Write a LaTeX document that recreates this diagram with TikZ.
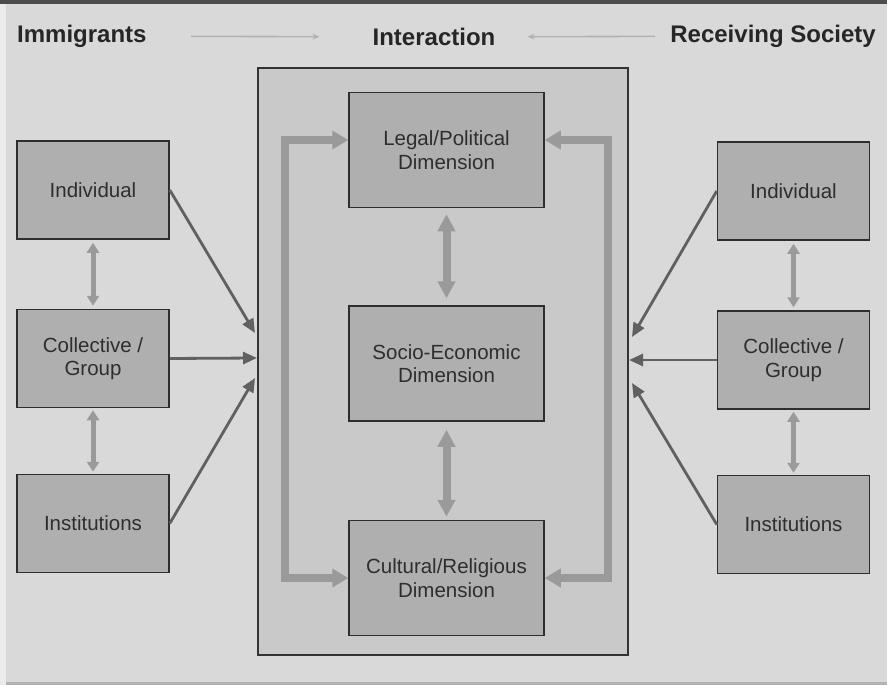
\documentclass[tikz,border=0pt]{standalone}
\usepackage{fontspec}
\setmainfont{Liberation Sans}
\usetikzlibrary{arrows.meta}

\definecolor{bggray}{HTML}{D9D9D9}
\definecolor{outergray}{HTML}{C9C9C9}
\definecolor{boxgray}{HTML}{AFAFAF}
\definecolor{loopgray}{HTML}{9A9A9A}
\definecolor{linkgray}{HTML}{606060}
\definecolor{textgray}{HTML}{2E2E2E}

\begin{document}
\begin{tikzpicture}[x=1pt, y=-1pt,
    box/.style={draw=textgray, line width=1.5pt, fill=boxgray, text=textgray,
        align=center, font=\fontsize{20.5}{23.5}\selectfont, inner sep=0pt},
    sidebox/.style={box, minimum width=152pt, minimum height=98pt},
    dimbox/.style={box, minimum width=195pt, minimum height=115pt},
    title/.style={font=\fontsize{24}{28}\selectfont\bfseries, text=black!85, inner sep=0pt},
    titlearr/.style={draw=black!30, line width=1.6pt, -{Stealth[length=7pt, width=6pt]}},
    link/.style={draw=linkgray, line width=2.8pt, -{Triangle[length=14pt, width=12pt]}},
    vlink/.style={draw=loopgray, line width=5pt, {Triangle[length=10pt, width=12pt]}-{Triangle[length=10pt, width=12pt]}},
    dlink/.style={draw=loopgray, line width=8pt, {Triangle[length=17pt, width=17pt]}-{Triangle[length=17pt, width=17pt]}},
    loop/.style={draw=loopgray, line width=8pt, {Triangle[length=16pt, width=18pt]}-{Triangle[length=16pt, width=18pt]}}]

    % page
    \fill[bggray] (0,0) rectangle (887,685);
    \fill[white!92!black] (0,0) rectangle (6,685);
    \fill[black!70] (0,0) rectangle (887,4);
    \fill[black!30] (6,682) rectangle (887,685);

    % headings
    \node[title, anchor=west] (imm) at (17,36) {Immigrants};
    \node[title] (inter) at (434,37) {Interaction};
    \node[title, anchor=east] (recv) at (876,36) {Receiving Society};
    \draw[titlearr, shorten <=44pt, shorten >=53pt] (imm) -- (inter);
    \draw[titlearr, shorten <=15pt, shorten >=32pt] (recv) -- (inter);

    % interaction frame
    \node[draw=black!80, line width=1.5pt, fill=outergray, minimum width=370pt,
        minimum height=587pt, inner sep=0pt] (frame) at (443,361.5) {};

    \node[dimbox] (legal) at (446.5,150) {Legal/Political\\Dimension};
    \node[dimbox] (socio) at (446.5,363.5) {Socio-Economic\\Dimension};
    \node[dimbox] (cult) at (446.5,578) {Cultural/Religious\\Dimension};

    \draw[dlink, shorten <=6pt, shorten >=7pt] (legal) -- (socio);
    \draw[dlink, shorten <=8pt, shorten >=3pt] (socio) -- (cult);
    \draw[loop] ([yshift=10pt]legal.west) -- ++(-63,0) |- (cult.west);
    \draw[loop] ([yshift=10pt]legal.east) -- ++(63,0) |- (cult.east);

    % immigrants
    \node[sidebox] (lind) at (93,190) {Individual};
    \node[sidebox] (lcol) at (93,358.5) {Collective /\\Group};
    \node[sidebox] (linst) at (93,523.5) {Institutions};
    \draw[vlink, shorten <=3pt, shorten >=3pt] (lind) -- (lcol);
    \draw[vlink, shorten <=2pt, shorten >=2pt] (lcol) -- (linst);

    \coordinate (lin1) at (255,333);
    \coordinate (lin2) at (257,358);
    \coordinate (lin3) at (255,378);
    \draw[link] (lind.east) -- (lin1);
    \draw[link] (lcol.east) -- (lin2);
    \draw[link] (linst.east) -- (lin3);

    % receiving society
    \node[sidebox] (rind) at (793.5,191) {Individual};
    \node[sidebox] (rcol) at (793.5,360) {Collective /\\Group};
    \node[sidebox] (rinst) at (793.5,524.5) {Institutions};
    \draw[vlink, shorten <=3pt, shorten >=3pt] (rind) -- (rcol);
    \draw[vlink, shorten <=2pt, shorten >=2pt] (rcol) -- (rinst);

    \coordinate (rin1) at (632,337);
    \coordinate (rin2) at (629,360);
    \coordinate (rin3) at (632,383);
    \draw[link] (rind.west) -- (rin1);
    \draw[link] (rcol.west) -- (rin2);
    \draw[link] (rinst.west) -- (rin3);
\end{tikzpicture}
\end{document}
